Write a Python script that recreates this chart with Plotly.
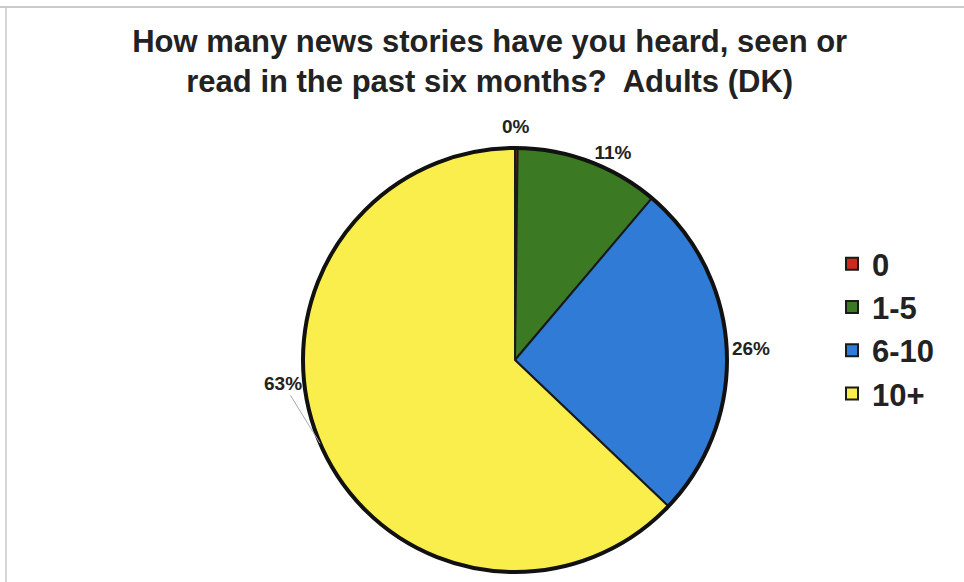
import math
import plotly.graph_objects as go

# Survey answers: number of news stories heard, seen or read (DK adults)
categories = ["0", "1-5", "6-10", "10+"]
shares = [0.2, 11, 26, 63]
colors = ["#cc2a1a", "#3b7a22", "#2f7bd6", "#f9ee4c"]

W, H = 964, 582
# pie placement (pixels): centre and radius
cx, cy, r = 515, 360, 212
dom_x = [(cx - r) / W, (cx + r) / W]
dom_y = [(H - cy - r) / H, (H - cy + r) / H]

label_font = dict(family="Liberation Sans, Arial", size=19, color="#222222", weight="bold")
text_pos = ["none", "outside", "outside", "none"]

fig = go.Figure()
fig.add_trace(go.Pie(
    labels=categories,
    values=shares,
    sort=False,
    direction="clockwise",
    rotation=0,
    domain=dict(x=dom_x, y=dom_y),
    marker=dict(colors=colors, line=dict(color="#1a1a1a", width=2)),
    texttemplate="%{percent:.0%}",
    textposition=text_pos,
    outsidetextfont=label_font,
    hoverinfo="label+percent",
    showlegend=True,
))

# heavy outline around the whole pie
fig.add_trace(go.Pie(
    labels=["outline"],
    values=[1],
    sort=False,
    domain=dict(x=dom_x, y=dom_y),
    marker=dict(colors=["rgba(0,0,0,0)"], line=dict(color="#111111", width=4)),
    textinfo="none",
    hoverinfo="skip",
    showlegend=False,
))

total = sum(shares)
xc, yc = sum(dom_x) / 2, sum(dom_y) / 2


def slice_point(i, radius_px):
    """Paper coordinates of the point at a slice's mid-angle, radius_px from the centre."""
    mid = (sum(shares[:i]) + shares[i] / 2) / total
    theta = 2 * math.pi * mid
    return (xc + (radius_px / W) * math.sin(theta),
            yc + (radius_px / H) * math.cos(theta))


# label for the tiny first slice, centred just above the pie
px0, py0 = slice_point(0, r + 22)
fig.add_annotation(
    x=px0, y=py0, xref="paper", yref="paper",
    text=f"{round(shares[0] / total * 100)}%",
    showarrow=False, xanchor="center", yanchor="middle",
    font=label_font,
)

# label for the largest slice, with a leader line to its edge
last = len(shares) - 1
edge_x, edge_y = slice_point(last, r)
fig.add_annotation(
    x=edge_x, y=edge_y, xref="paper", yref="paper",
    text=f"{round(shares[last] / total * 100)}%",
    showarrow=True, arrowhead=0, arrowwidth=1, arrowcolor="#aaaaaa",
    ax=-37, ay=-60,
    font=label_font,
)

# frame lines along the top and left edges
fig.add_shape(type="line", xref="paper", yref="paper", x0=0, x1=1,
              y0=1 - 7 / H, y1=1 - 7 / H, line=dict(color="#b8b8b8", width=1.5))
fig.add_shape(type="line", xref="paper", yref="paper", x0=6 / W, x1=6 / W,
              y0=0, y1=1 - 7 / H, line=dict(color="#c8c8c8", width=1.5))

fig.update_layout(
    width=W, height=H,
    margin=dict(l=0, r=0, t=0, b=0),
    paper_bgcolor="white",
    plot_bgcolor="white",
    title=dict(
        text="How many news stories have you heard, seen or<br>read in the past six months?  Adults (DK)",
        x=0.508, xanchor="center", y=1 - 52 / H, yanchor="top",
        font=dict(family="Liberation Sans, Arial", size=31, color="#222222", weight="bold"),
    ),
    legend=dict(
        x=832 / W, xanchor="left", y=1 - 237 / H, yanchor="top",
        font=dict(family="Liberation Sans, Arial", size=31, color="#222222", weight="bold"),
        bgcolor="rgba(0,0,0,0)",
        tracegroupgap=0,
    ),
)

fig.write_html("out.html")
